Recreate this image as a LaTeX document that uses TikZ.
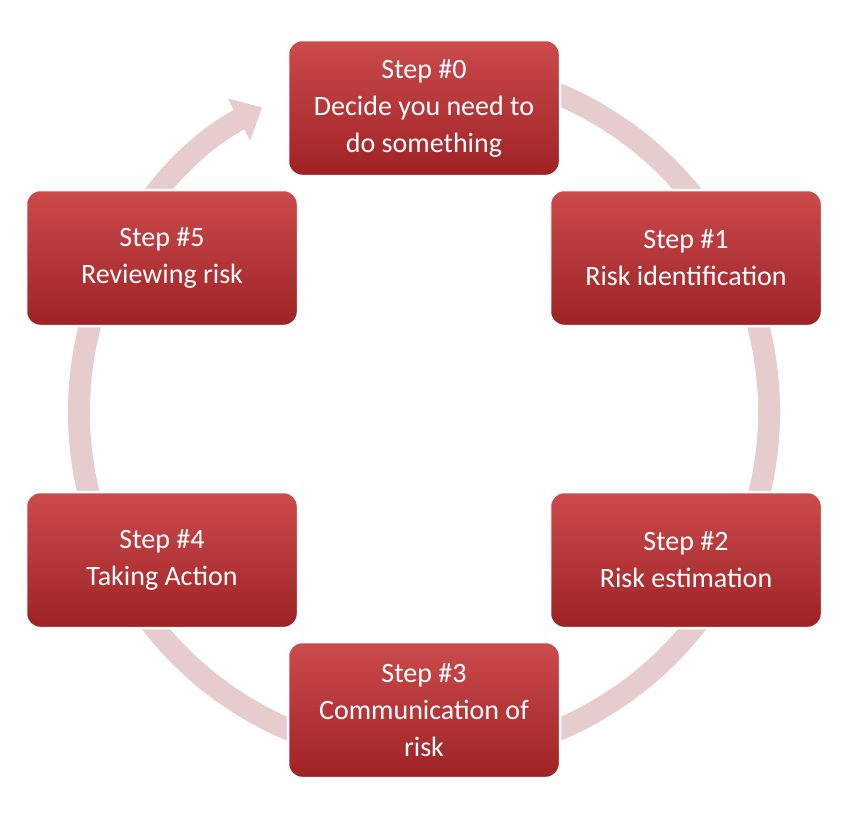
\documentclass[tikz,border=0pt]{standalone}
\usepackage{fontspec}
\setmainfont{Carlito}
\usetikzlibrary{arrows.meta}
\definecolor{ringc}{HTML}{E3C3C5}
\definecolor{boxtop}{HTML}{CC4B4D}
\definecolor{boxbot}{HTML}{9E2224}
\begin{document}
\begin{tikzpicture}[x=1pt,y=-1pt,
  stepbox/.style={draw=white,line width=2.5pt,rounded corners=14pt,
    minimum width=272pt,minimum height=136pt,align=center,
    top color=boxtop,bottom color=boxbot,text=white,
    font=\fontsize{28}{37}\selectfont,inner sep=4pt}]
\useasboundingbox (0,0) rectangle (846,812);
\fill[white] (0,0) rectangle (846,812);
\draw[ringc!85!white,line width=22pt,-{Triangle[length=26pt,width=46pt]}]
  (424,412) ++(-75:345) arc[start angle=-75,end angle=242,radius=345];
\node[stepbox] (s0) at (424,108) {Step \#0\\Decide you need to\\do something};
\node[stepbox] (s1) at (686,258) {Step \#1\\Risk identification};
\node[stepbox] (s2) at (686,560) {Step \#2\\Risk estimation};
\node[stepbox] (s3) at (424,710) {Step \#3\\Communication of\\risk};
\node[stepbox] (s4) at (162,560) {Step \#4\\Taking Action};
\node[stepbox] (s5) at (162,258) {Step \#5\\Reviewing risk};
\end{tikzpicture}
\end{document}
